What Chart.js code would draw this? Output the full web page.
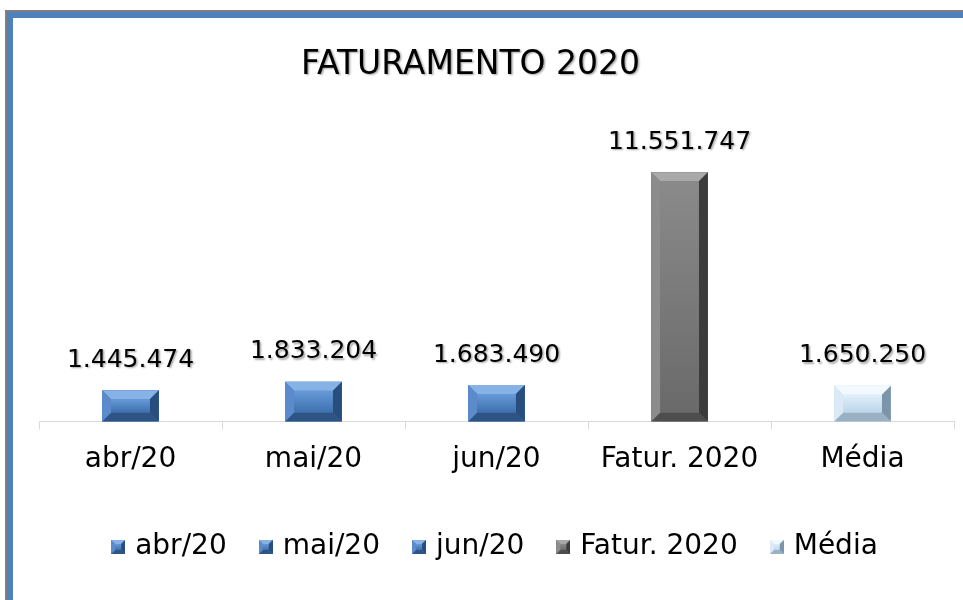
<!DOCTYPE html>
<html>
<head>
<meta charset="utf-8">
<title>Faturamento 2020</title>
<script src="https://cdn.jsdelivr.net/npm/chart.js@4.4.1/dist/chart.umd.min.js"></script>
<style>
    html, body { margin: 0; padding: 0; background: #fff; overflow: hidden; }
    #outer { position: absolute; left: 5px; top: 10px; width: 958px; height: 590px;
             border-left: 2px solid #7f7f7f; border-top: 2px solid #7f7f7f; box-sizing: border-box; }
    #inner { width: 100%; height: 100%; border-left: 6px solid #4f81bd; border-top: 6px solid #4f81bd;
             box-sizing: border-box; }
    canvas { display: block; }
</style>
</head>
<body>
<div id="outer"><div id="inner"><canvas id="chart" width="950" height="582"></canvas></div></div>
<script>
// dados
const categories = ['abr/20', 'mai/20', 'jun/20', 'Fatur. 2020', 'Média'];
const faturamento = [1445474, 1833204, 1683490, 11551747, 1650250];
const chartTitle = 'FATURAMENTO 2020';

const FONT = "'DejaVu Sans', 'Liberation Sans', sans-serif";

// cores do efeito chanfrado (Excel bevel)
const bluePal = { base: '#4a7ebf', face: ['#679ad8', '#3e70ae'], top: '#86b2e6', left: '#5b8bca', right: '#284e7e', bottom: '#2d5485' };
const grayPal = { base: '#777777', face: ['#8a8a8a', '#6a6a6a'], top: '#a9a9a9', left: '#8c8c8c', right: '#3c3c3c', bottom: '#4e4e4e' };
const lightPal = { base: '#c8e0f3', face: ['#e0effa', '#bdd6ea'], top: '#f2f9fe', left: '#dbeaf6', right: '#7d95a9', bottom: '#9ab1c4' };
const palettes = [bluePal, bluePal, bluePal, grayPal, lightPal];

function fmt(n) {
    return String(n).replace(/\B(?=(\d{3})+(?!\d))/g, '.');
}

function drawBevel(ctx, l, t, w, h, pal, b) {
    const r = l + w, btm = t + h;
    const bv = Math.min(b, h / 2), bh = Math.min(b, w / 2);
    const poly = (pts, c) => {
        ctx.beginPath();
        ctx.moveTo(pts[0], pts[1]);
        for (let i = 2; i < pts.length; i += 2) ctx.lineTo(pts[i], pts[i + 1]);
        ctx.closePath();
        ctx.fillStyle = c;
        ctx.fill();
    };
    ctx.fillStyle = pal.base;
    ctx.fillRect(l, t, w, h);
    poly([l, t, r, t, r - bh, t + bv, l + bh, t + bv], pal.top);
    poly([l, btm, l + bh, btm - bv, r - bh, btm - bv, r, btm], pal.bottom);
    poly([l, t, l + bh, t + bv, l + bh, btm - bv, l, btm], pal.left);
    poly([r, t, r, btm, r - bh, btm - bv, r - bh, t + bv], pal.right);
    if (h - 2 * bv > 0) {
        const g = ctx.createLinearGradient(0, t + bv, 0, btm - bv);
        g.addColorStop(0, pal.face[0]);
        g.addColorStop(1, pal.face[1]);
        ctx.fillStyle = g;
        ctx.fillRect(l + bh, t + bv, w - 2 * bh, h - 2 * bv);
    }
}

// ícones da legenda
const legendIcons = palettes.map(pal => {
    const c = document.createElement('canvas');
    c.width = 14; c.height = 14;
    drawBevel(c.getContext('2d'), 0, 0, 14, 14, pal, 4);
    return c;
});

// desenha o chanfro por cima das barras
const bevelPlugin = {
    id: 'bevel',
    afterDatasetsDraw(chart) {
        const ctx = chart.ctx;
        const meta = chart.getDatasetMeta(0);
        ctx.save();
        meta.data.forEach((bar, i) => {
            const { x, y, base, width } = bar.getProps(['x', 'y', 'base', 'width'], true);
            drawBevel(ctx, x - width / 2, y, width, base - y, palettes[i], 9);
        });
        ctx.restore();
    }
};

// rótulos de valores
const valueLabels = {
    id: 'valueLabels',
    afterDatasetsDraw(chart) {
        const ctx = chart.ctx;
        const meta = chart.getDatasetMeta(0);
        ctx.save();
        ctx.font = '25px ' + FONT;
        ctx.fillStyle = '#000';
        ctx.textAlign = 'center';
        ctx.textBaseline = 'middle';
        ctx.shadowColor = 'rgba(0,0,0,0.35)';
        ctx.shadowOffsetX = 1.5;
        ctx.shadowOffsetY = 1.5;
        ctx.shadowBlur = 2;
        meta.data.forEach((bar, i) => {
            ctx.fillText(fmt(faturamento[i]), bar.x, bar.y - 30);
        });
        ctx.restore();
    }
};

// título
const titlePlugin = {
    id: 'bigTitle',
    afterDraw(chart) {
        const ctx = chart.ctx;
        const area = chart.chartArea;
        ctx.save();
        ctx.font = '33px ' + FONT;
        ctx.fillStyle = '#000';
        ctx.textAlign = 'center';
        ctx.textBaseline = 'middle';
        ctx.shadowColor = 'rgba(0,0,0,0.35)';
        ctx.shadowOffsetX = 1.5;
        ctx.shadowOffsetY = 1.5;
        ctx.shadowBlur = 2;
        ctx.fillText(chartTitle, (area.left + area.right) / 2 - 26, 47);
        ctx.restore();
    }
};

const ctx = document.getElementById('chart').getContext('2d');
new Chart(ctx, {
    type: 'bar',
    data: {
        labels: categories,
        datasets: [{
            label: chartTitle,
            data: faturamento,
            backgroundColor: palettes.map(p => p.base),
            borderWidth: 0,
            barPercentage: 0.31,
            categoryPercentage: 1
        }]
    },
    options: {
        responsive: false,
        animation: false,
        layout: { padding: { top: 100, left: 26, right: 9, bottom: 29 } },
        scales: {
            x: {
                grid: { offset: true, drawOnChartArea: false, drawTicks: true, tickLength: 8, color: '#d9d9d9' },
                border: { color: '#d9d9d9', width: 1 },
                ticks: { color: '#000', font: { family: FONT, size: 28 }, padding: 14, maxRotation: 0 },
                afterFit(scale) { scale.height += 6; }
            },
            y: { display: false, min: 0, max: 14060000 }
        },
        plugins: {
            title: { display: false },
            tooltip: { enabled: false },
            legend: {
                position: 'bottom',
                onClick: null,
                labels: {
                    color: '#000',
                    font: { family: FONT, size: 28 },
                    usePointStyle: true,
                    pointStyleWidth: 6,
                    boxHeight: 14,
                    padding: 36,
                    generateLabels() {
                        return categories.map((c, i) => ({
                            text: c,
                            fillStyle: palettes[i].base,
                            strokeStyle: palettes[i].base,
                            lineWidth: 0,
                            pointStyle: legendIcons[i],
                            hidden: false,
                            index: i,
                            datasetIndex: 0
                        }));
                    }
                }
            }
        }
    },
    plugins: [bevelPlugin, valueLabels, titlePlugin]
});
</script>
</body>
</html>
